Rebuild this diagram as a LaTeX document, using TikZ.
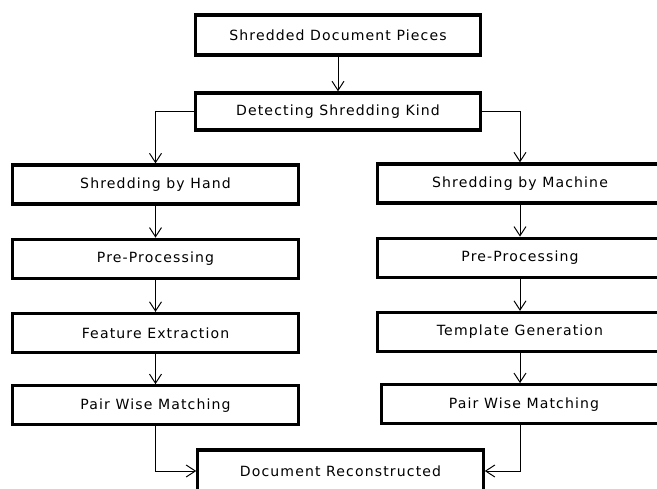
\documentclass[tikz,border=0pt]{standalone}
\usepackage{fontspec}
\newfontfamily\boxfont[LetterSpace=8]{DejaVu Sans}
\usetikzlibrary{arrows.meta, positioning}

\begin{document}
\begin{tikzpicture}[node distance=0.8cm, x=0.025cm, y=-0.025cm,
  stage/.style={rectangle, draw=black, line width=2.3pt, fill=white, minimum width=7.13cm, minimum height=0.975cm, align=center, font=\boxfont\fontsize{10}{12}\selectfont},
  arrow/.style={line width=0.7pt, -{Straight Barb[length=2.3mm, width=3mm]}}]

\useasboundingbox (0,0) rectangle (657,488);
\clip (0,0) rectangle (657,488);

% top of the chart
\node[stage, minimum height=1cm] (pieces) at (338,35) {Shredded Document Pieces};
\node[stage, minimum height=0.93cm] (detect) at (338,111.5) {Detecting Shredding Kind};

% by hand
\node[stage] (hand) at (155.5,184.5) {Shredding by Hand};
\node[stage, below=of hand] (prehand) {Pre-Processing};
\node[stage, below=of prehand] (feature) {Feature Extraction};
\node[stage, below=0.75cm of feature] (pairhand) {Pair Wise Matching};

% by machine
\node[stage] (machine) at (520,183.5) {Shredding by Machine};
\node[stage, below=of machine] (premachine) {Pre-Processing};
\node[stage, below=of premachine] (template) {Template Generation};
\node[stage, below=0.75cm of template, xshift=0.1cm] (pairmachine) {Pair Wise Matching};

\node[stage, minimum height=1.05cm] (result) at (340.5,471) {Document Reconstructed};

\draw[arrow] (pieces) -- (detect);
\draw[arrow] (detect.west) -| (hand.north);
\draw[arrow] (detect.east) -| (machine.north);

\draw[arrow] (hand) -- (prehand);
\draw[arrow] (prehand) -- (feature);
\draw[arrow] (feature) -- (pairhand);

\draw[arrow] (machine) -- (premachine);
\draw[arrow] (premachine) -- (template);
\draw[arrow] (template.south) -- (template.south |- pairmachine.north);

\draw[arrow] (pairhand.south) |- (result.west);
\draw[arrow] (pairmachine.south -| template.south) |- (result.east);

\end{tikzpicture}
\end{document}
